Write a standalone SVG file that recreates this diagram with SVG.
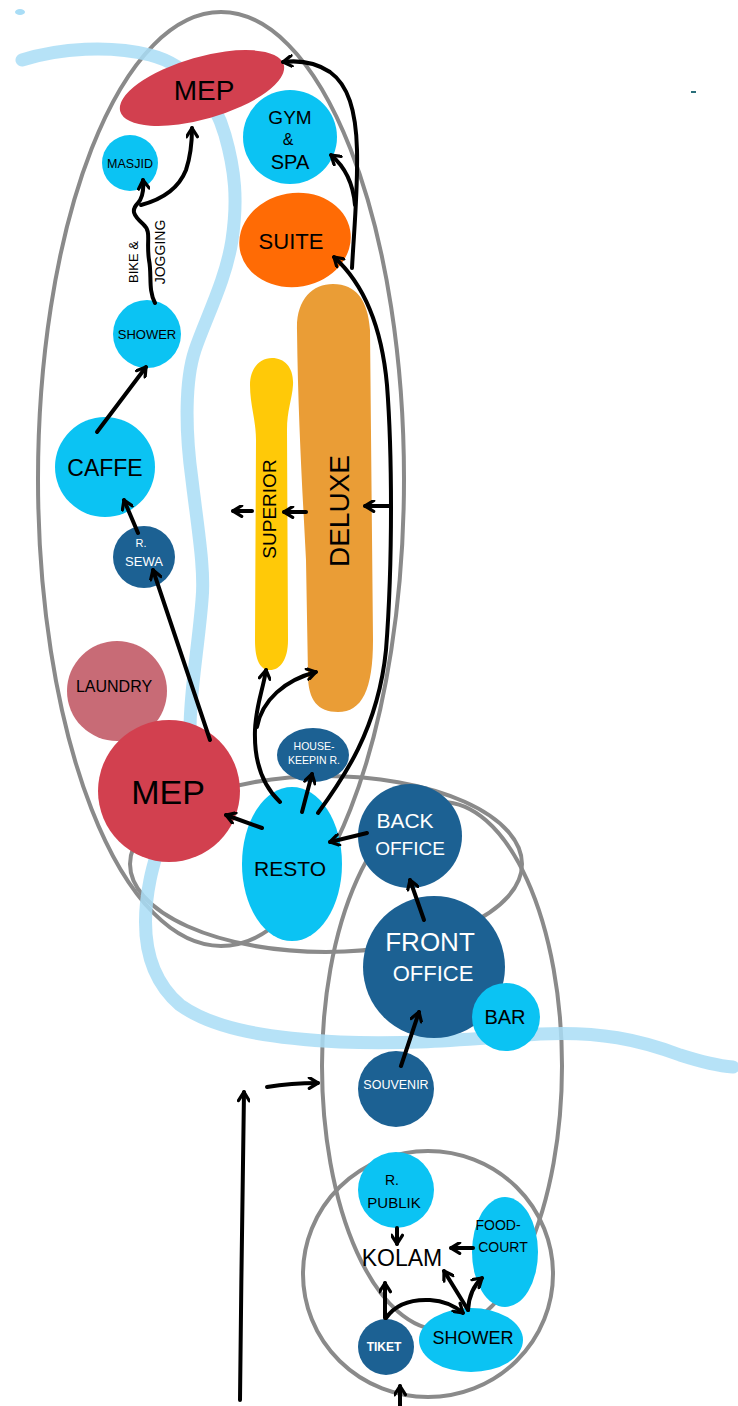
<svg xmlns="http://www.w3.org/2000/svg" width="738" height="1406" viewBox="0 0 738 1406">
<style>
.zone{fill:none;stroke:#8A8A8A;stroke-width:4}
.river{fill:none;stroke:#A9DDF6;stroke-width:13;stroke-linecap:round;opacity:0.85}
.cy{fill:#0BC3F3}
.db{fill:#1C6193}
.rd{fill:#D2404F}
.c{fill:none;stroke:#000;stroke-width:4;stroke-linecap:round;stroke-linejoin:round}
.a{marker-end:url(#ah)}
text{font-family:"Liberation Sans",Arial,sans-serif;text-anchor:middle;dominant-baseline:central;fill:#000}
.w{fill:#fff}
</style>
<defs>
<marker id="ah" viewBox="0 0 12 12" refX="10" refY="6" markerWidth="13" markerHeight="13" markerUnits="userSpaceOnUse" orient="auto">
<path d="M2,1 L10,6 L2,11" fill="none" stroke="#000" stroke-width="3" stroke-linecap="round" stroke-linejoin="round"/>
</marker>
</defs>
<rect width="738" height="1406" fill="#fff"/>
<g id="zones">
<ellipse class="zone" cx="221" cy="479" rx="183" ry="467"/>
<ellipse class="zone" cx="326" cy="864" rx="196" ry="88"/>
<ellipse class="zone" cx="442" cy="1066" rx="120" ry="264"/>
<ellipse class="zone" cx="428" cy="1274" rx="125" ry="123"/>
</g>
<g id="river">
<path class="river" d="M22,60 C60,48 110,45 150,55 C190,65 215,100 225,135 C235,170 238,200 232,240 C226,280 205,320 195,350 C185,380 185,430 192,480 C198,530 205,570 202,600 C198,650 190,690 190,730 C190,770 160,830 150,880 C140,930 145,975 180,1005 C215,1030 270,1038 340,1042 C420,1045 480,1038 540,1034 C600,1031 640,1040 680,1055 C705,1063 720,1066 733,1067"/>
<ellipse cx="20" cy="12" rx="5" ry="3" fill="#A9DDF6"/>
<path d="M691,92 L696,92" stroke="#2A6F7A" stroke-width="2"/>
</g>
<g id="mep-top"><ellipse class="rd" cx="202" cy="88" rx="85" ry="31" transform="rotate(-16 202 88)"/><text x="204" y="90" font-size="28">MEP</text></g>
<g id="gym-spa"><circle class="cy" cx="290" cy="137" r="47"/><text x="290" y="117" font-size="19">GYM</text><text x="288" y="139" font-size="16">&amp;</text><text x="290" y="162" font-size="20">SPA</text></g>
<g id="masjid"><circle class="cy" cx="130" cy="163" r="28"/><text x="130" y="164" font-size="12.5">MASJID</text></g>
<g id="suite"><ellipse cx="295" cy="240" rx="56" ry="47" fill="#FF6B05" transform="rotate(-10 295 240)"/><text x="291" y="241" font-size="22">SUITE</text></g>
<g id="deluxe"><path fill="#EA9D36" d="M297,330 C296,300 312,284 333,284 C356,284 368,300 370,330 L373,640 C373,690 362,712 338,712 C318,712 308,700 308,675 L306,560 C303,500 298,420 297,330 Z"/><text x="339" y="511" font-size="28" transform="rotate(-90 339 511)">DELUXE</text></g>
<g id="superior"><path fill="#FFC908" d="M250,385 C250,368 260,358 272,358 C285,358 294,368 293,385 C292,400 287,410 287,430 L288,640 C288,660 280,670 270,670 C260,670 255,660 255,640 L256,440 C256,420 250,405 250,385 Z"/><text x="269" y="509" font-size="19" transform="rotate(-90 269 509)">SUPERIOR</text></g>
<g id="shower-top"><circle class="cy" cx="147" cy="334" r="34"/><text x="147" y="334" font-size="13">SHOWER</text></g>
<g id="bike-jogging"><text x="133" y="262" font-size="13" transform="rotate(-90 133 262)">BIKE &amp;</text><text x="160" y="252" font-size="14" transform="rotate(-90 160 252)">JOGGING</text></g>
<g id="caffe"><circle class="cy" cx="105" cy="467" r="50"/><text x="105" y="468" font-size="23">CAFFE</text></g>
<g id="r-sewa"><circle class="db" cx="144" cy="557" r="31"/><text class="w" x="141" y="543" font-size="11">R.</text><text class="w" x="144" y="561" font-size="13">SEWA</text></g>
<g id="laundry"><circle cx="117" cy="691" r="50" fill="#C86B76"/><text x="114" y="686" font-size="16">LAUNDRY</text></g>
<g id="mep-bottom"><circle class="rd" cx="169" cy="791" r="71"/><text x="168" y="792" font-size="34">MEP</text></g>
<g id="housekeeping"><ellipse class="db" cx="313" cy="755" rx="36" ry="27"/><text class="w" x="314" y="746" font-size="10.5">HOUSE-</text><text class="w" x="314" y="760" font-size="10.5">KEEPIN R.</text></g>
<g id="resto"><ellipse class="cy" cx="292" cy="864" rx="50" ry="77"/><text x="290" y="868" font-size="21">RESTO</text></g>
<g id="back-office"><circle class="db" cx="410" cy="836" r="52"/><text class="w" x="405" y="820" font-size="21">BACK</text><text class="w" x="410" y="848" font-size="19">OFFICE</text></g>
<g id="front-office"><circle class="db" cx="434" cy="967" r="71"/><text class="w" x="430" y="942" font-size="26">FRONT</text><text class="w" x="433" y="973" font-size="22">OFFICE</text></g>
<g id="bar"><circle class="cy" cx="506" cy="1017" r="34"/><text x="505" y="1017" font-size="20">BAR</text></g>
<g id="souvenir"><circle class="db" cx="396" cy="1089" r="38"/><text class="w" x="396" y="1085" font-size="12.5">SOUVENIR</text></g>
<g id="r-publik"><circle class="cy" cx="396" cy="1190" r="38"/><text x="392" y="1180" font-size="14">R.</text><text x="394" y="1202" font-size="15">PUBLIK</text></g>
<g id="kolam"><text x="402" y="1258" font-size="23">KOLAM</text></g>
<g id="food-court"><ellipse class="cy" cx="505" cy="1252" rx="33" ry="55"/><text x="498" y="1225" font-size="14">FOOD-</text><text x="503" y="1247" font-size="14">COURT</text></g>
<g id="tiket"><circle class="db" cx="386" cy="1347" r="28"/><text class="w" x="384" y="1347" font-size="12" font-weight="bold">TIKET</text></g>
<g id="shower-bottom"><ellipse class="cy" cx="471" cy="1340" rx="52" ry="32"/><text x="473" y="1338" font-size="18">SHOWER</text></g>
<g id="connectors">
<path class="c a" d="M352,268 C354,230 358,190 357,150 C356,110 348,85 330,72 C315,62 300,60 283,62"/>
<path class="c a" d="M355,205 C353,182 344,166 331,155"/>
<path class="c a" d="M155,303 C148,290 152,275 149,260 C146,240 152,232 143,224 C133,215 131,210 138,203 C143,197 144,190 143,180"/>
<path class="c a" d="M141,205 C160,200 178,190 186,170 C191,155 192,142 192,128"/>
<path class="c a" d="M97,432 L146,367"/>
<path class="c a" d="M138,533 L124,500"/>
<path class="c a" d="M210,740 L153,570"/>
<path class="c a" d="M262,828 L226,815"/>
<path class="c a" d="M302,812 L312,774"/>
<path class="c a" d="M280,802 C262,785 254,760 255,730 C256,705 263,690 266,670"/>
<path class="c a" d="M257,727 C262,700 285,680 316,672"/>
<path class="c a" d="M318,813 C342,780 378,730 386,650 C393,560 392,450 387,385 C382,330 365,285 334,257"/>
<path class="c a" d="M389,506 L365,506"/>
<path class="c a" d="M306,512 L284,512"/>
<path class="c a" d="M252,511 L233,511"/>
<path class="c a" d="M367,833 L330,842"/>
<path class="c a" d="M424,920 L410,880"/>
<path class="c a" d="M401,1066 L419,1012"/>
<path class="c a" d="M397,1228 L397,1244"/>
<path class="c a" d="M473,1248 L451,1248"/>
<path class="c a" d="M385,1318 L385,1283"/>
<path class="c a" d="M386,1318 C395,1305 410,1299 430,1300 C445,1301 455,1306 463,1313"/>
<path class="c a" d="M468,1310 L444,1271"/>
<path class="c a" d="M468,1310 C469,1295 474,1285 482,1278"/>
<path class="c a" d="M400,1406 L400,1386"/>
<path class="c a" d="M240,1400 C241,1300 243,1150 244,1092"/>
<path class="c a" d="M267,1087 C285,1084 300,1083 318,1083"/>
</g>
</svg>
